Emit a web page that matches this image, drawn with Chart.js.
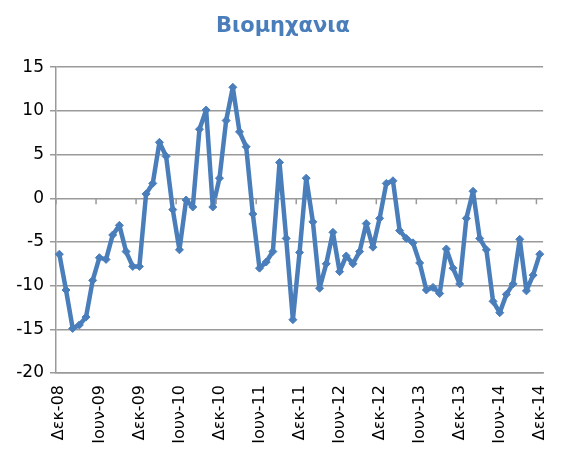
<!DOCTYPE html>
<html>
<head>
<meta charset="utf-8">
<script src="https://cdn.jsdelivr.net/npm/chart.js@4"></script>
<style>
  html, body { margin: 0; padding: 0; background: #fff; overflow: hidden; }
  #wrap { width: 563px; height: 478px; }
</style>
</head>
<body>
<div id="wrap"><canvas id="chart"></canvas></div>
<script>
// μηνιαίες τιμές Δεκ-08 ... Δεκ-14
const months = ['Ιαν', 'Φεβ', 'Μαρ', 'Απρ', 'Μαϊ', 'Ιουν', 'Ιουλ', 'Αυγ', 'Σεπ', 'Οκτ', 'Νοε', 'Δεκ'];
const startYear = 8;
const values = [
  -6.4, -10.5, -14.9, -14.5, -13.6, -9.4, -6.8, -7.0, -4.2, -3.1, -6.1, -7.8,
  -7.8, 0.5, 1.7, 6.4, 4.8, -1.3, -5.9, -0.2, -1.0, 7.9, 10.1, -1.0,
  2.3, 8.9, 12.7, 7.6, 5.9, -1.8, -8.0, -7.3, -6.1, 4.1, -4.6, -13.9,
  -6.2, 2.3, -2.7, -10.3, -7.5, -3.9, -8.4, -6.6, -7.5, -6.1, -2.9, -5.6,
  -2.3, 1.7, 2.0, -3.7, -4.6, -5.1, -7.4, -10.5, -10.2, -10.9, -5.8, -8.0,
  -9.8, -2.3, 0.8, -4.6, -5.9, -11.8, -13.1, -11.0, -9.8, -4.7, -10.6, -8.8,
  -6.4
];
const yTicks = [15, 10, 5, 0, -5, -10, -15, -20];

const labels = values.map((v, i) => {
  const m = (11 + i) % 12;
  const y = startYear + Math.floor((11 + i) / 12);
  return months[m] + '-' + String(y).padStart(2, '0');
});

const blue = '#4A7EBB';
const gray = '#9a9a9a';

// μικρές υποδιαιρέσεις πάνω στη γραμμή του μηδενός, κάθε 6 μήνες
const zeroTicks = {
  id: 'zeroTicks',
  afterDatasetsDraw(chart) {
    const x = chart.scales.x, y = chart.scales.y;
    const c = chart.ctx;
    const y0 = y.getPixelForValue(0);
    const half = (x.getPixelForValue(1) - x.getPixelForValue(0)) / 2;
    c.save();
    c.strokeStyle = gray;
    c.lineWidth = 1.5;
    for (let i = 0; i <= values.length; i += 6) {
      const px = x.getPixelForValue(i) - half;
      c.beginPath();
      c.moveTo(px, y0);
      c.lineTo(px, y0 + 6);
      c.stroke();
    }
    c.restore();
  }
};

new Chart(document.getElementById('chart'), {
  type: 'line',
  data: {
    labels: labels,
    datasets: [{
      data: values,
      borderColor: blue,
      backgroundColor: blue,
      borderWidth: 4.5,
      borderJoinStyle: 'round',
      borderCapStyle: 'round',
      pointStyle: 'rectRot',
      pointRadius: 4,
      pointBorderWidth: 1,
      tension: 0
    }]
  },
  options: {
    responsive: true,
    maintainAspectRatio: false,
    animation: false,
    layout: { padding: { top: 4, right: -3, left: 0 } },
    plugins: {
      legend: { display: false },
      tooltip: { enabled: false },
      title: {
        display: true,
        text: 'Βιομηχανια',
        color: blue,
        font: { family: 'DejaVu Sans', size: 21, weight: 'bold' },
        padding: { top: 10, bottom: 28 }
      }
    },
    scales: {
      x: {
        offset: true,
        grid: { display: false },
        border: { color: gray, width: 1.5 },
        afterFit: (s) => { s.height = 105; },
        ticks: {
          autoSkip: false,
          minRotation: 90,
          maxRotation: 90,
          padding: 4,
          color: '#000',
          font: { family: 'DejaVu Sans', size: 16 },
          callback: function (val, i) { return i % 6 === 0 ? labels[i] : null; }
        }
      },
      y: {
        min: -20,
        max: 15,
        afterBuildTicks: (s) => { s.ticks = yTicks.map(v => ({ value: v })); },
        afterFit: (s) => { s.width = 56; },
        grid: { color: gray, lineWidth: 1.5, tickLength: 6 },
        border: { color: gray, width: 1.5 },
        ticks: {
          color: '#000',
          padding: 6,
          font: { family: 'DejaVu Sans', size: 17 }
        }
      }
    }
  },
  plugins: [zeroTicks]
});
</script>
</body>
</html>
